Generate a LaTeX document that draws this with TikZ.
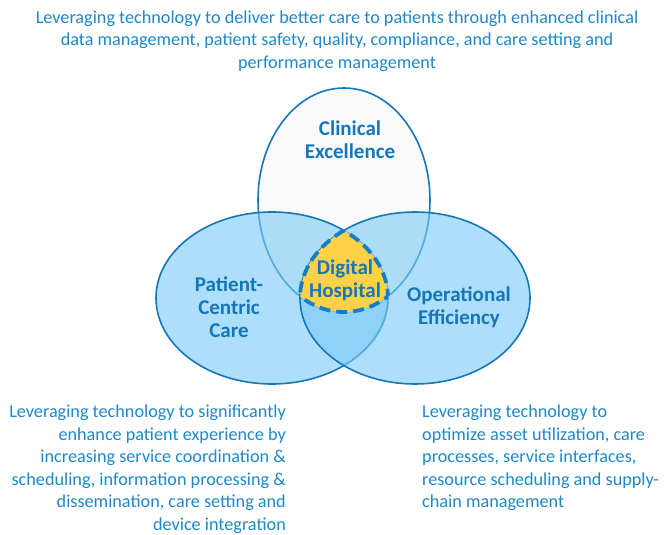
\documentclass[tikz,border=0pt]{standalone}
\usepackage{fontspec}
\setmainfont{Carlito}
\usetikzlibrary{positioning}
\definecolor{ringblue}{RGB}{22,118,186}
\definecolor{textblue}{RGB}{30,136,201}
\definecolor{lobefill}{RGB}{120,202,246}
\definecolor{hubyellow}{RGB}{255,209,72}
\definecolor{dashblue}{RGB}{24,126,196}
\tikzstyle{lobe}=[draw=ringblue,line width=1.6pt,fill=lobefill,fill opacity=0.6]
\tikzstyle{hubedge}=[draw=dashblue,line width=3.8pt,dash pattern=on 11pt off 6pt]
\tikzstyle{title}=[text=ringblue,font=\bfseries\fontsize{21}{23}\selectfont,align=center]
\tikzstyle{blurb}=[text=textblue,font=\fontsize{18.2}{22.5}\selectfont,inner sep=0pt]

\begin{document}
\begin{tikzpicture}[x=1pt,y=-1pt]
  \useasboundingbox (0,0) rectangle (665,535);

  % the three circles
  \draw[draw=ringblue,line width=1.6pt,fill=black!2] (344,200) ellipse (86 and 112);
  \draw[lobe] (272,298) ellipse (116 and 86);
  \draw[lobe] (415,298) ellipse (115 and 86);

  % centre
  \begin{scope}
    \clip (344,200) ellipse (86 and 112);
    \clip (272,298) ellipse (116 and 86);
    \fill[hubyellow] (415,298) ellipse (115 and 86);
  \end{scope}
  \begin{scope}
    \clip (272,298) ellipse (116 and 86);
    \clip (415,298) ellipse (115 and 86);
    \draw[hubedge] (344,200) ellipse (86 and 112);
  \end{scope}
  \begin{scope}
    \clip (344,200) ellipse (86 and 112);
    \clip (415,298) ellipse (115 and 86);
    \draw[hubedge] (272,298) ellipse (116 and 86);
  \end{scope}
  \begin{scope}
    \clip (344,200) ellipse (86 and 112);
    \clip (272,298) ellipse (116 and 86);
    \draw[hubedge] (415,298) ellipse (115 and 86);
  \end{scope}

  \node[title] (clinical) at (350,140) {Clinical\\Excellence};
  \node[title] (patient) at (229,307) {Patient-\\Centric\\Care};
  \node[title] (operational) at (459,307) {Operational\\Efficiency};
  \node[title] (digital) at (345,280) {Digital\\Hospital};

  \node[blurb,align=center] (topnote) at (337,41)
    {Leveraging technology to deliver better care to patients through enhanced clinical\\
     data management, patient safety, quality, compliance, and care setting and\\
     performance management};
  \node[blurb,align=right,anchor=north east] (leftnote) at (286,405)
    {Leveraging technology to significantly\\
     enhance patient experience by\\
     increasing service coordination \&\\
     scheduling, information processing \&\\
     dissemination, care setting and\\
     device integration};
  \node[blurb,align=left,anchor=north west] (rightnote) at (422,405)
    {Leveraging technology to\\
     optimize asset utilization, care\\
     processes, service interfaces,\\
     resource scheduling and supply-\\
     chain management};
\end{tikzpicture}
\end{document}
